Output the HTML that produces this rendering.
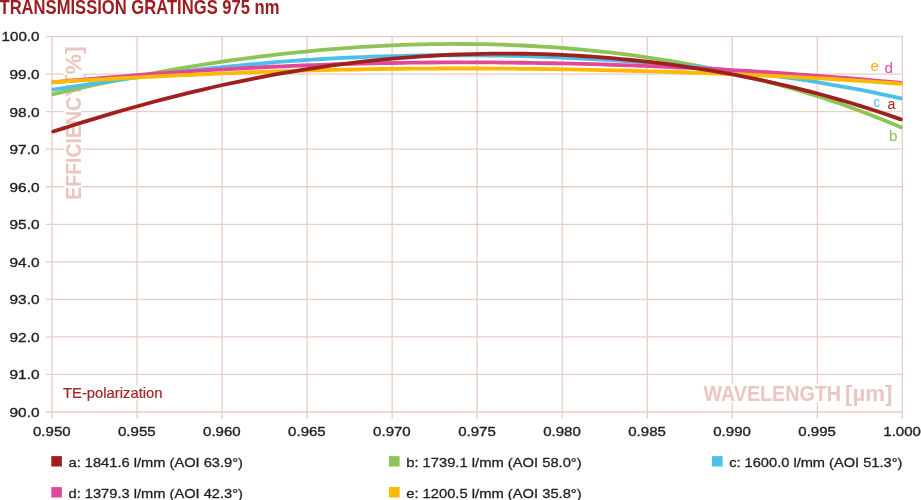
<!DOCTYPE html>
<html><head><meta charset="utf-8"><style>
html,body{margin:0;padding:0;background:#fff;width:921px;height:500px;overflow:hidden}
svg{position:absolute;left:0;top:0;will-change:transform;font-family:"Liberation Sans",sans-serif}
.grid line{stroke:#eacdc6;stroke-width:1.3}
.yl text{font-size:13.6px;fill:#231d1d;stroke:#231d1d;stroke-width:0.35;text-anchor:end}
.xl text{font-size:13.4px;fill:#231d1d;stroke:#231d1d;stroke-width:0.35;text-anchor:middle}
.cv path{fill:none;stroke-width:3.8;stroke-linecap:round;stroke-linejoin:round}
.lg text{font-size:13.4px;fill:#231d1d;stroke:#231d1d;stroke-width:0.3}
</style></head><body>
<svg width="921" height="500" viewBox="0 0 921 500">
<text x="-0.5" y="13.8" font-size="19.4" font-weight="bold" fill="#9d1c20" textLength="280" lengthAdjust="spacingAndGlyphs">TRANSMISSION GRATINGS 975 nm</text>
<g class="grid">
<line x1="46" y1="36.55" x2="902.5" y2="36.55"/>
<line x1="46" y1="74.09" x2="902.5" y2="74.09"/>
<line x1="46" y1="111.64" x2="902.5" y2="111.64"/>
<line x1="46" y1="149.19" x2="902.5" y2="149.19"/>
<line x1="46" y1="186.73" x2="902.5" y2="186.73"/>
<line x1="46" y1="224.28" x2="902.5" y2="224.28"/>
<line x1="46" y1="261.82" x2="902.5" y2="261.82"/>
<line x1="46" y1="299.37" x2="902.5" y2="299.37"/>
<line x1="46" y1="336.91" x2="902.5" y2="336.91"/>
<line x1="46" y1="374.46" x2="902.5" y2="374.46"/>
<line x1="46" y1="412.00" x2="902.5" y2="412.00"/>
<line x1="52.0" y1="36" x2="52.0" y2="418.8"/>
<line x1="137.03" y1="36" x2="137.03" y2="418.8"/>
<line x1="222.07" y1="36" x2="222.07" y2="418.8"/>
<line x1="307.11" y1="36" x2="307.11" y2="418.8"/>
<line x1="392.14" y1="36" x2="392.14" y2="418.8"/>
<line x1="477.17" y1="36" x2="477.17" y2="418.8"/>
<line x1="562.21" y1="36" x2="562.21" y2="418.8"/>
<line x1="647.25" y1="36" x2="647.25" y2="418.8"/>
<line x1="732.28" y1="36" x2="732.28" y2="418.8"/>
<line x1="817.31" y1="36" x2="817.31" y2="418.8"/>
<line x1="902.35" y1="36" x2="902.35" y2="418.8"/>
</g>
<g transform="translate(81.2,199.8) rotate(-90)">
<rect x="0" y="-17" width="153" height="17.5" fill="#fff"/>
<text x="0" y="0" font-size="21.8" font-weight="bold" fill="#e9c7c0" textLength="116" lengthAdjust="spacingAndGlyphs">EFFICIENCY</text>
<text x="117.5" y="0" font-size="21.8" font-weight="bold" fill="#e9c7c0" textLength="36" lengthAdjust="spacingAndGlyphs">[%]</text>
</g>
<rect x="703" y="383.7" width="189" height="18.6" fill="#fff"/>
<text x="703.5" y="401" font-size="22.6" font-weight="bold" fill="#e9c7c0" textLength="137.5" lengthAdjust="spacingAndGlyphs">WAVELENGTH</text>
<text x="845" y="401" font-size="22.6" font-weight="bold" fill="#e9c7c0" textLength="47.3" lengthAdjust="spacingAndGlyphs">[µm]</text>
<rect x="62" y="385.2" width="101" height="14.3" fill="#fff"/>
<text x="63" y="397.6" font-size="14.5" fill="#a3262a" stroke="#a3262a" stroke-width="0.2" textLength="99.5" lengthAdjust="spacingAndGlyphs">TE-polarization</text>
<g class="yl">
<text x="39.5" y="41.4" textLength="38.0" lengthAdjust="spacingAndGlyphs">100.0</text>
<text x="39.5" y="79.0" textLength="30.0" lengthAdjust="spacingAndGlyphs">99.0</text>
<text x="39.5" y="116.5" textLength="30.0" lengthAdjust="spacingAndGlyphs">98.0</text>
<text x="39.5" y="154.1" textLength="30.0" lengthAdjust="spacingAndGlyphs">97.0</text>
<text x="39.5" y="191.6" textLength="30.0" lengthAdjust="spacingAndGlyphs">96.0</text>
<text x="39.5" y="229.2" textLength="30.0" lengthAdjust="spacingAndGlyphs">95.0</text>
<text x="39.5" y="266.7" textLength="30.0" lengthAdjust="spacingAndGlyphs">94.0</text>
<text x="39.5" y="304.3" textLength="30.0" lengthAdjust="spacingAndGlyphs">93.0</text>
<text x="39.5" y="341.8" textLength="30.0" lengthAdjust="spacingAndGlyphs">92.0</text>
<text x="39.5" y="379.4" textLength="30.0" lengthAdjust="spacingAndGlyphs">91.0</text>
<text x="39.5" y="416.9" textLength="30.0" lengthAdjust="spacingAndGlyphs">90.0</text>
</g>
<g class="xl">
<text x="51.80" y="436.3" textLength="37.6" lengthAdjust="spacingAndGlyphs">0.950</text>
<text x="136.83" y="436.3" textLength="37.6" lengthAdjust="spacingAndGlyphs">0.955</text>
<text x="221.87" y="436.3" textLength="37.6" lengthAdjust="spacingAndGlyphs">0.960</text>
<text x="306.91" y="436.3" textLength="37.6" lengthAdjust="spacingAndGlyphs">0.965</text>
<text x="391.94" y="436.3" textLength="37.6" lengthAdjust="spacingAndGlyphs">0.970</text>
<text x="476.97" y="436.3" textLength="37.6" lengthAdjust="spacingAndGlyphs">0.975</text>
<text x="562.01" y="436.3" textLength="37.6" lengthAdjust="spacingAndGlyphs">0.980</text>
<text x="647.05" y="436.3" textLength="37.6" lengthAdjust="spacingAndGlyphs">0.985</text>
<text x="732.08" y="436.3" textLength="37.6" lengthAdjust="spacingAndGlyphs">0.990</text>
<text x="817.11" y="436.3" textLength="37.6" lengthAdjust="spacingAndGlyphs">0.995</text>
<text x="902.15" y="436.3" textLength="37.6" lengthAdjust="spacingAndGlyphs">1.000</text>
</g>
<g class="cv">
<path d="M53.2,94.13 L63.2,91.84 L73.1,89.59 L83.1,87.39 L93.1,85.23 L103.1,83.11 L113.0,81.05 L123.0,79.03 L133.0,77.06 L142.9,75.14 L152.9,73.27 L162.9,71.45 L172.9,69.68 L182.8,67.97 L192.8,66.31 L202.8,64.70 L212.7,63.15 L222.7,61.66 L232.7,60.22 L242.7,58.84 L252.6,57.52 L262.6,56.25 L272.6,55.05 L282.6,53.90 L292.5,52.81 L302.5,51.79 L312.5,50.82 L322.4,49.92 L332.4,49.08 L342.4,48.30 L352.4,47.58 L362.3,46.93 L372.3,46.34 L382.3,45.81 L392.2,45.35 L402.2,44.96 L412.2,44.63 L422.2,44.36 L432.1,44.17 L442.1,44.04 L452.1,43.97 L462.0,43.98 L472.0,44.05 L482.0,44.20 L492.0,44.41 L501.9,44.70 L511.9,45.05 L521.9,45.48 L531.8,45.98 L541.8,46.56 L551.8,47.21 L561.8,47.93 L571.7,48.74 L581.7,49.62 L591.7,50.57 L601.6,51.61 L611.6,52.73 L621.6,53.92 L631.6,55.20 L641.5,56.57 L651.5,58.02 L661.5,59.56 L671.4,61.18 L681.4,62.90 L691.4,64.70 L701.4,66.60 L711.3,68.59 L721.3,70.68 L731.3,72.87 L741.3,75.15 L751.2,77.54 L761.2,80.03 L771.2,82.63 L781.1,85.34 L791.1,88.15 L801.1,91.08 L811.1,94.13 L821.0,97.29 L831.0,100.58 L841.0,103.98 L850.9,107.52 L860.9,111.18 L870.9,114.97 L880.9,118.90 L890.8,122.97 L900.8,127.18" stroke="#8dc357"/>
<path d="M53.2,89.65 L63.2,88.11 L73.1,86.58 L83.1,85.07 L93.1,83.58 L103.1,82.11 L113.0,80.67 L123.0,79.26 L133.0,77.88 L142.9,76.53 L152.9,75.21 L162.9,73.93 L172.9,72.69 L182.8,71.48 L192.8,70.31 L202.8,69.18 L212.7,68.10 L222.7,67.05 L232.7,66.05 L242.7,65.09 L252.6,64.18 L262.6,63.30 L272.6,62.48 L282.6,61.70 L292.5,60.96 L302.5,60.27 L312.5,59.62 L322.4,59.02 L332.4,58.47 L342.4,57.96 L352.4,57.49 L362.3,57.07 L372.3,56.70 L382.3,56.36 L392.2,56.08 L402.2,55.83 L412.2,55.63 L422.2,55.48 L432.1,55.36 L442.1,55.29 L452.1,55.26 L462.0,55.27 L472.0,55.32 L482.0,55.41 L492.0,55.55 L501.9,55.72 L511.9,55.93 L521.9,56.18 L531.8,56.47 L541.8,56.80 L551.8,57.17 L561.8,57.58 L571.7,58.02 L581.7,58.50 L591.7,59.03 L601.6,59.58 L611.6,60.18 L621.6,60.82 L631.6,61.49 L641.5,62.21 L651.5,62.96 L661.5,63.76 L671.4,64.60 L681.4,65.47 L691.4,66.39 L701.4,67.36 L711.3,68.37 L721.3,69.42 L731.3,70.52 L741.3,71.67 L751.2,72.88 L761.2,74.13 L771.2,75.43 L781.1,76.80 L791.1,78.22 L801.1,79.70 L811.1,81.24 L821.0,82.85 L831.0,84.52 L841.0,86.27 L850.9,88.09 L860.9,89.99 L870.9,91.97 L880.9,94.03 L890.8,96.19 L900.8,98.43" stroke="#4cbfeb"/>
<path d="M53.2,82.37 L63.2,81.45 L73.1,80.54 L83.1,79.66 L93.1,78.79 L103.1,77.94 L113.0,77.11 L123.0,76.30 L133.0,75.51 L142.9,74.74 L152.9,73.99 L162.9,73.26 L172.9,72.56 L182.8,71.87 L192.8,71.21 L202.8,70.57 L212.7,69.96 L222.7,69.37 L232.7,68.80 L242.7,68.26 L252.6,67.74 L262.6,67.24 L272.6,66.77 L282.6,66.32 L292.5,65.90 L302.5,65.50 L312.5,65.13 L322.4,64.78 L332.4,64.45 L342.4,64.15 L352.4,63.87 L362.3,63.62 L372.3,63.39 L382.3,63.18 L392.2,63.00 L402.2,62.84 L412.2,62.71 L422.2,62.60 L432.1,62.51 L442.1,62.45 L452.1,62.41 L462.0,62.39 L472.0,62.39 L482.0,62.42 L492.0,62.47 L501.9,62.54 L511.9,62.64 L521.9,62.75 L531.8,62.89 L541.8,63.05 L551.8,63.23 L561.8,63.43 L571.7,63.66 L581.7,63.90 L591.7,64.17 L601.6,64.46 L611.6,64.76 L621.6,65.09 L631.6,65.44 L641.5,65.81 L651.5,66.20 L661.5,66.61 L671.4,67.04 L681.4,67.50 L691.4,67.97 L701.4,68.46 L711.3,68.97 L721.3,69.51 L731.3,70.06 L741.3,70.64 L751.2,71.24 L761.2,71.85 L771.2,72.49 L781.1,73.15 L791.1,73.84 L801.1,74.54 L811.1,75.27 L821.0,76.02 L831.0,76.79 L841.0,77.59 L850.9,78.41 L860.9,79.25 L870.9,80.12 L880.9,81.02 L890.8,81.94 L900.8,82.89" stroke="#e2489a"/>
<path d="M53.2,82.04 L63.2,81.49 L73.1,80.93 L83.1,80.38 L93.1,79.83 L103.1,79.29 L113.0,78.75 L123.0,78.21 L133.0,77.69 L142.9,77.17 L152.9,76.66 L162.9,76.16 L172.9,75.67 L182.8,75.20 L192.8,74.74 L202.8,74.29 L212.7,73.85 L222.7,73.43 L232.7,73.03 L242.7,72.64 L252.6,72.27 L262.6,71.91 L272.6,71.57 L282.6,71.25 L292.5,70.94 L302.5,70.66 L312.5,70.39 L322.4,70.14 L332.4,69.90 L342.4,69.69 L352.4,69.49 L362.3,69.31 L372.3,69.15 L382.3,69.00 L392.2,68.88 L402.2,68.77 L412.2,68.68 L422.2,68.60 L432.1,68.55 L442.1,68.51 L452.1,68.48 L462.0,68.48 L472.0,68.49 L482.0,68.52 L492.0,68.56 L501.9,68.62 L511.9,68.70 L521.9,68.79 L531.8,68.89 L541.8,69.02 L551.8,69.15 L561.8,69.30 L571.7,69.47 L581.7,69.65 L591.7,69.85 L601.6,70.06 L611.6,70.28 L621.6,70.52 L631.6,70.77 L641.5,71.04 L651.5,71.32 L661.5,71.61 L671.4,71.92 L681.4,72.24 L691.4,72.58 L701.4,72.93 L711.3,73.30 L721.3,73.68 L731.3,74.08 L741.3,74.49 L751.2,74.92 L761.2,75.37 L771.2,75.84 L781.1,76.32 L791.1,76.82 L801.1,77.34 L811.1,77.88 L821.0,78.44 L831.0,79.02 L841.0,79.62 L850.9,80.25 L860.9,80.90 L870.9,81.58 L880.9,82.28 L890.8,83.01 L900.8,83.77" stroke="#fbb900"/>
<path d="M53.2,131.54 L63.2,128.35 L73.1,125.21 L83.1,122.12 L93.1,119.08 L103.1,116.09 L113.0,113.16 L123.0,110.28 L133.0,107.47 L142.9,104.71 L152.9,102.02 L162.9,99.39 L172.9,96.82 L182.8,94.32 L192.8,91.89 L202.8,89.53 L212.7,87.24 L222.7,85.02 L232.7,82.86 L242.7,80.79 L252.6,78.78 L262.6,76.85 L272.6,74.99 L282.6,73.21 L292.5,71.51 L302.5,69.88 L312.5,68.32 L322.4,66.85 L332.4,65.45 L342.4,64.13 L352.4,62.88 L362.3,61.72 L372.3,60.63 L382.3,59.62 L392.2,58.69 L402.2,57.84 L412.2,57.06 L422.2,56.37 L432.1,55.75 L442.1,55.22 L452.1,54.76 L462.0,54.38 L472.0,54.08 L482.0,53.86 L492.0,53.71 L501.9,53.65 L511.9,53.67 L521.9,53.76 L531.8,53.93 L541.8,54.18 L551.8,54.51 L561.8,54.92 L571.7,55.41 L581.7,55.98 L591.7,56.63 L601.6,57.35 L611.6,58.16 L621.6,59.05 L631.6,60.01 L641.5,61.06 L651.5,62.19 L661.5,63.40 L671.4,64.70 L681.4,66.07 L691.4,67.54 L701.4,69.08 L711.3,70.71 L721.3,72.42 L731.3,74.23 L741.3,76.12 L751.2,78.09 L761.2,80.16 L771.2,82.32 L781.1,84.57 L791.1,86.92 L801.1,89.36 L811.1,91.89 L821.0,94.53 L831.0,97.26 L841.0,100.10 L850.9,103.04 L860.9,106.09 L870.9,109.24 L880.9,112.51 L890.8,115.88 L900.8,119.38" stroke="#a0201e"/>
</g>
<g font-size="15.2">
<text x="870.6" y="71.3" fill="#f7b500">e</text>
<text x="884.6" y="72.7" fill="#e2489a">d</text>
<text x="873.6" y="106.6" fill="#4cbfeb" textLength="6.6" lengthAdjust="spacingAndGlyphs">c</text>
<text x="887.6" y="109" fill="#a0201e" textLength="7.8" lengthAdjust="spacingAndGlyphs">a</text>
<text x="888.9" y="140.6" fill="#8cc152">b</text>
</g>
<g class="lg">
<rect x="51.3" y="456.1" width="10.6" height="10.4" fill="#a0201e"/>
<text x="68.5" y="466.90000000000003" textLength="174.5" lengthAdjust="spacingAndGlyphs">a: 1841.6 l/mm (AOI 63.9°)</text>
<rect x="389" y="456.1" width="10.6" height="10.4" fill="#8dc357"/>
<text x="406.2" y="466.90000000000003" textLength="175.5" lengthAdjust="spacingAndGlyphs">b: 1739.1 l/mm (AOI 58.0°)</text>
<rect x="712" y="456.1" width="10.6" height="10.4" fill="#4cbfeb"/>
<text x="729.2" y="466.90000000000003" textLength="173.2" lengthAdjust="spacingAndGlyphs">c: 1600.0 l/mm (AOI 51.3°)</text>
<rect x="51.3" y="487.1" width="10.6" height="10.4" fill="#e2489a"/>
<text x="68.5" y="497.90000000000003" textLength="174.5" lengthAdjust="spacingAndGlyphs">d: 1379.3 l/mm (AOI 42.3°)</text>
<rect x="389" y="487.1" width="10.6" height="10.4" fill="#fbb900"/>
<text x="406.2" y="497.90000000000003" textLength="175.5" lengthAdjust="spacingAndGlyphs">e: 1200.5 l/mm (AOI 35.8°)</text>
</g>
</svg>
</body></html>
